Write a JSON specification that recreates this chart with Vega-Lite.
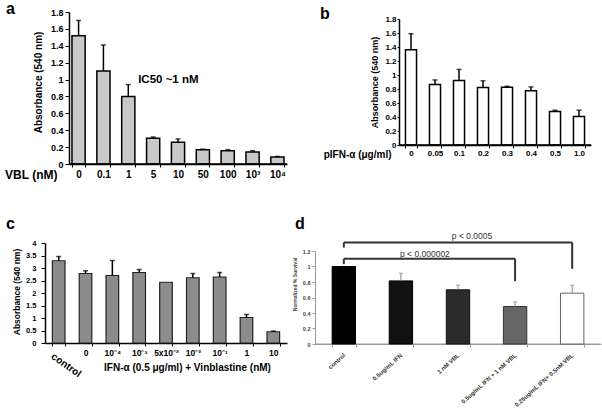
{
  "$schema": "https://vega.github.io/schema/vega-lite/v6.json",
  "background": "white",
  "padding": {"left": 4, "top": 0, "right": 0, "bottom": 0},
  "config": {
    "font": "Liberation Sans",
    "view": {"stroke": null},
    "axis": {"grid": false, "domain": true, "ticks": true, "labelFont": "Liberation Sans", "titleFont": "Liberation Sans", "labelFontWeight": "bold", "titleFontWeight": "bold", "labelColor": "#000", "titleColor": "#000", "domainColor": "#000", "tickColor": "#000", "labelBound": false, "labelOverlap": false},
    "title": {"font": "Liberation Sans", "fontWeight": "bold", "fontSize": 16, "color": "#000", "anchor": "start", "frame": "group", "offset": 0, "baseline": "alphabetic"}
  },
  "columns": 1,
  "align": "none",
  "spacing": 35,
  "bounds": "full",
  "concat": [
    {
      "spacing": 112,
      "bounds": "flush",
      "hconcat": [
        {
          "width": 218,
          "height": 152,
          "title": {"text": "a", "dx": -63, "dy": 12.5},
          "data": {"values": [
            {"vbl": "0", "mean": 1.52, "upper": 1.70},
            {"vbl": "0.1", "mean": 1.10, "upper": 1.41},
            {"vbl": "1", "mean": 0.80, "upper": 0.94},
            {"vbl": "5", "mean": 0.305, "upper": 0.32, "note": "IC50 ~1 nM"},
            {"vbl": "10", "mean": 0.257, "upper": 0.297},
            {"vbl": "50", "mean": 0.17, "upper": 0.176},
            {"vbl": "100", "mean": 0.158, "upper": 0.17},
            {"vbl": "10³", "mean": 0.142, "upper": 0.158},
            {"vbl": "10⁴", "mean": 0.083, "upper": 0.09}
          ]},
          "encoding": {
            "x": {"field": "vbl", "type": "nominal",
              "scale": {"domain": ["0", "0.1", "1", "5", "10", "50", "100", "10³", "10⁴"], "paddingInner": 0.47, "paddingOuter": 0.12},
              "axis": {"title": "VBL (nM)", "titleX": -12, "titleY": 10, "titleAlign": "right", "titleBaseline": "middle", "titleFontSize": 12, "labelAngle": 0, "labelFontSize": 10, "labelPadding": 2, "tickBand": "extent", "tickSize": 3, "domainWidth": 1.5}},
            "y": {"field": "mean", "type": "quantitative", "title": "Absorbance (540 nm)",
              "scale": {"domain": [0, 1.8], "nice": false},
              "axis": {"values": [0, 0.2, 0.4, 0.6, 0.8, 1, 1.2, 1.4, 1.6, 1.8], "format": ".1~f", "titleX": -26, "titleY": 70, "titleFontSize": 10, "labelFontSize": 9, "tickSize": 4, "labelPadding": 2, "domainWidth": 1.5}}
          },
          "layer": [
            {"mark": {"type": "bar", "fill": "#c9c9c9", "stroke": "#000", "strokeWidth": 1.5}},
            {"transform": [{"filter": "datum.upper > datum.mean"}], "mark": {"type": "rule", "color": "#000", "strokeWidth": 1.5}, "encoding": {"y2": {"field": "upper"}}},
            {"transform": [{"filter": "datum.upper > datum.mean"}], "mark": {"type": "tick", "orient": "horizontal", "color": "#000", "thickness": 1.5, "size": 5}, "encoding": {"y": {"field": "upper", "type": "quantitative", "title": "Absorbance (540 nm)"}}},
            {"transform": [{"filter": "datum.note"}], "mark": {"type": "text", "align": "left", "baseline": "middle", "dx": -15, "fontSize": 11.5, "fontWeight": "bold", "color": "#000"}, "encoding": {"y": {"datum": 1.0}, "text": {"field": "note"}}},
            {"data": {"values": [{"base": 0}]}, "mark": {"type": "rule", "color": "#000", "strokeWidth": 1.5}, "encoding": {"x": null, "y": {"field": "base", "type": "quantitative", "title": "Absorbance (540 nm)"}}}
          ]
        },
        {
          "width": 192,
          "height": 133,
          "title": {"text": "b", "dx": -79, "dy": 14},
          "data": {"values": [
            {"dose": "0", "mean": 1.36, "upper": 1.59},
            {"dose": "0.05", "mean": 0.865, "upper": 0.93},
            {"dose": "0.1", "mean": 0.92, "upper": 1.08},
            {"dose": "0.2", "mean": 0.82, "upper": 0.917},
            {"dose": "0.3", "mean": 0.826, "upper": 0.84},
            {"dose": "0.4", "mean": 0.774, "upper": 0.83},
            {"dose": "0.5", "mean": 0.48, "upper": 0.497},
            {"dose": "1.0", "mean": 0.406, "upper": 0.497}
          ]},
          "encoding": {
            "x": {"field": "dose", "type": "nominal",
              "scale": {"domain": ["0", "0.05", "0.1", "0.2", "0.3", "0.4", "0.5", "1.0"], "paddingInner": 0.54, "paddingOuter": 0.27},
              "axis": {"title": "pIFN-α (μg/ml)", "titleX": -8, "titleY": 9, "titleAlign": "right", "titleBaseline": "middle", "titleFontSize": 10, "labelAngle": 0, "labelFontSize": 8, "labelPadding": 1, "tickBand": "extent", "tickSize": 3, "domainWidth": 1.5}},
            "y": {"field": "mean", "type": "quantitative", "title": "Absorbance (540 nm)",
              "scale": {"domain": [0, 1.8], "nice": false, "range": [133, 7]},
              "axis": {"values": [0, 0.2, 0.4, 0.6, 0.8, 1, 1.2, 1.4, 1.6, 1.8], "format": ".1~f", "titleX": -20, "titleY": 70, "titleFontSize": 9, "labelFontSize": 8, "tickSize": 2, "labelPadding": 1, "domainWidth": 1.5}}
          },
          "layer": [
            {"mark": {"type": "bar", "fill": "#ffffff", "stroke": "#000", "strokeWidth": 1.5}},
            {"transform": [{"filter": "datum.upper > datum.mean"}], "mark": {"type": "rule", "color": "#000", "strokeWidth": 1.5}, "encoding": {"y2": {"field": "upper"}}},
            {"transform": [{"filter": "datum.upper > datum.mean"}], "mark": {"type": "tick", "orient": "horizontal", "color": "#000", "thickness": 1.5, "size": 5}, "encoding": {"y": {"field": "upper", "type": "quantitative", "title": "Absorbance (540 nm)"}}},
            {"data": {"values": [{"base": 0}]}, "mark": {"type": "rule", "color": "#000", "strokeWidth": 1.5}, "encoding": {"x": null, "y": {"field": "base", "type": "quantitative", "title": "Absorbance (540 nm)"}}}
          ]
        }
      ]
    },
    {
      "spacing": 28,
      "bounds": "flush",
      "hconcat": [
        {
          "width": 218,
          "height": 100,
          "title": {"text": "c", "dx": -63, "dy": -3.25},
          "data": {"values": [
            {"conc": "control", "mean": 3.29, "upper": 3.46},
            {"conc": "0", "mean": 2.78, "upper": 2.89},
            {"conc": "10⁻⁴", "mean": 2.70, "upper": 3.30},
            {"conc": "10⁻³", "mean": 2.82, "upper": 2.94},
            {"conc": "5x10⁻²", "mean": 2.43, "upper": 2.43},
            {"conc": "10⁻²", "mean": 2.61, "upper": 2.78},
            {"conc": "10⁻¹", "mean": 2.64, "upper": 2.82},
            {"conc": "1", "mean": 1.02, "upper": 1.14},
            {"conc": "10", "mean": 0.45, "upper": 0.48}
          ]},
          "encoding": {
            "x": {"field": "conc", "type": "nominal",
              "scale": {"domain": ["control", "0", "10⁻⁴", "10⁻³", "5x10⁻²", "10⁻²", "10⁻¹", "1", "10"], "range": [-24, 218], "paddingInner": 0.53, "paddingOuter": 0.276},
              "axis": {"title": "IFN-α (0.5 μg/ml) + Vinblastine (nM)", "titleX": 118, "titleY": 24, "titleAlign": "center", "titleBaseline": "middle", "titleFontSize": 10, "labelAngle": 0, "labelFontSize": 8.5, "labelPadding": 2, "tickBand": "extent", "tickSize": 3, "domainWidth": 1.5,
                "labelExpr": "datum.value === 'control' ? '' : datum.label"}},
            "y": {"field": "mean", "type": "quantitative", "title": "Absorbance (540 nm)",
              "scale": {"domain": [0, 4], "nice": false},
              "axis": {"offset": 24, "values": [0, 0.5, 1, 1.5, 2, 2.5, 3, 3.5, 4], "format": ".1~f", "titleX": -24, "titleY": 48.5, "titleFontSize": 8.5, "labelFontSize": 7.5, "tickSize": 4, "labelPadding": 5, "domainWidth": 1.5}}
          },
          "layer": [
            {"mark": {"type": "bar", "fill": "#8c8c8c", "stroke": "#222", "strokeWidth": 1.2}},
            {"transform": [{"filter": "datum.upper > datum.mean"}], "mark": {"type": "rule", "color": "#000", "strokeWidth": 1.5}, "encoding": {"y2": {"field": "upper"}}},
            {"transform": [{"filter": "datum.upper > datum.mean"}], "mark": {"type": "tick", "orient": "horizontal", "color": "#000", "thickness": 1.5, "size": 5}, "encoding": {"y": {"field": "upper", "type": "quantitative", "title": "Absorbance (540 nm)"}}},
            {"transform": [{"filter": "datum.conc === 'control'"}], "mark": {"type": "text", "angle": 35, "align": "left", "baseline": "top", "fontSize": 10, "fontWeight": "bold", "color": "#000", "dx": 2, "dy": 9, "clip": false}, "encoding": {"y": {"datum": 0}, "text": {"field": "conc"}}}
          ]
        },
        {
          "width": 286,
          "height": 101,
          "title": {"text": "d", "dx": -20, "dy": 3.5},
          "data": {"values": [
            {"group": "control", "mean": 1.0, "upper": 1.0},
            {"group": "0.5ug/mL IFN", "mean": 0.814, "upper": 0.913},
            {"group": "1 nM VBL", "mean": 0.699, "upper": 0.759},
            {"group": "0.5ug/mL IFN + 1 nM VBL", "mean": 0.484, "upper": 0.544},
            {"group": "0.25ug/mL IFN+ 0.5nM VBL", "mean": 0.656, "upper": 0.759}
          ]},
          "encoding": {
            "x": {"field": "group", "type": "nominal", "title": null,
              "scale": {"domain": ["control", "0.5ug/mL IFN", "1 nM VBL", "0.5ug/mL IFN + 1 nM VBL", "0.25ug/mL IFN+ 0.5nM VBL"], "paddingInner": 0.59, "paddingOuter": 0.3},
              "axis": {"labelAngle": -42, "labelAlign": "right", "labelBaseline": "middle", "labelFontSize": 6, "labelColor": "#333", "labelPadding": 7, "tickBand": "extent", "tickSize": 3, "tickColor": "#999", "domainColor": "#999"}},
            "y": {"field": "mean", "type": "quantitative", "title": "Normalized % Survival",
              "scale": {"domain": [0, 1.2], "nice": false, "range": [101, 8]},
              "axis": {"values": [0, 0.2, 0.4, 0.6, 0.8, 1, 1.2], "format": ".1~f", "titleX": -18, "titleY": 41, "titleFontSize": 5, "titleColor": "#444", "labelFontSize": 5.5, "labelColor": "#444", "tickSize": 3, "labelPadding": 2, "tickColor": "#999", "domainColor": "#999"}}
          },
          "layer": [
            {"data": {"values": [{"base": 0}]}, "mark": {"type": "rule", "color": "#999", "strokeWidth": 1}, "encoding": {"x": null, "y": {"field": "base", "type": "quantitative", "title": "Normalized % Survival"}}},
            {"mark": {"type": "bar", "strokeWidth": 1},
              "encoding": {
                "fill": {"field": "group", "type": "nominal", "legend": null, "scale": {"domain": ["control", "0.5ug/mL IFN", "1 nM VBL", "0.5ug/mL IFN + 1 nM VBL", "0.25ug/mL IFN+ 0.5nM VBL"], "range": ["#000000", "#111111", "#2b2b2b", "#666666", "#ffffff"]}},
                "stroke": {"field": "group", "type": "nominal", "legend": null, "scale": {"domain": ["control", "0.5ug/mL IFN", "1 nM VBL", "0.5ug/mL IFN + 1 nM VBL", "0.25ug/mL IFN+ 0.5nM VBL"], "range": ["#000000", "#000000", "#111111", "#333333", "#666666"]}}
              }},
            {"transform": [{"filter": "datum.upper > datum.mean"}], "mark": {"type": "rule", "color": "#888", "strokeWidth": 1}, "encoding": {"y2": {"field": "upper"}}},
            {"transform": [{"filter": "datum.upper > datum.mean"}], "mark": {"type": "tick", "orient": "horizontal", "color": "#888", "thickness": 1, "size": 4}, "encoding": {"y": {"field": "upper", "type": "quantitative", "title": "Normalized % Survival"}}},
            {"data": {"values": [
                {"from": "control", "to": "control", "y1": 1.03, "y2": 1.10},
                {"from": "control", "to": "0.5ug/mL IFN + 1 nM VBL", "y1": 1.10, "y2": 1.10},
                {"from": "0.5ug/mL IFN + 1 nM VBL", "to": "0.5ug/mL IFN + 1 nM VBL", "y1": 0.81, "y2": 1.10},
                {"from": "control", "to": "control", "y1": 1.245, "y2": 1.31},
                {"from": "control", "to": "0.25ug/mL IFN+ 0.5nM VBL", "y1": 1.31, "y2": 1.31},
                {"from": "0.25ug/mL IFN+ 0.5nM VBL", "to": "0.25ug/mL IFN+ 0.5nM VBL", "y1": 0.97, "y2": 1.31}
              ]},
              "mark": {"type": "rule", "color": "#333", "strokeWidth": 2, "clip": false},
              "encoding": {
                "x": {"field": "from", "type": "nominal", "title": null},
                "x2": {"field": "to"},
                "y": {"field": "y1", "type": "quantitative", "title": "Normalized % Survival"},
                "y2": {"field": "y2"}
              }},
            {"data": {"values": [{"group": "0.5ug/mL IFN", "pos": 1.165, "label": "p < 0.000002"}]},
              "mark": {"type": "text", "dx": 24, "fontSize": 8.5, "color": "#333", "baseline": "middle", "clip": false},
              "encoding": {"y": {"field": "pos", "type": "quantitative", "title": "Normalized % Survival"}, "text": {"field": "label"}}},
            {"data": {"values": [{"group": "1 nM VBL", "pos": 1.39, "label": "p < 0.0005"}]},
              "mark": {"type": "text", "dx": 14, "fontSize": 8.5, "color": "#333", "baseline": "middle", "clip": false},
              "encoding": {"y": {"field": "pos", "type": "quantitative", "title": "Normalized % Survival"}, "text": {"field": "label"}}}
          ]
        }
      ]
    }
  ]
}
